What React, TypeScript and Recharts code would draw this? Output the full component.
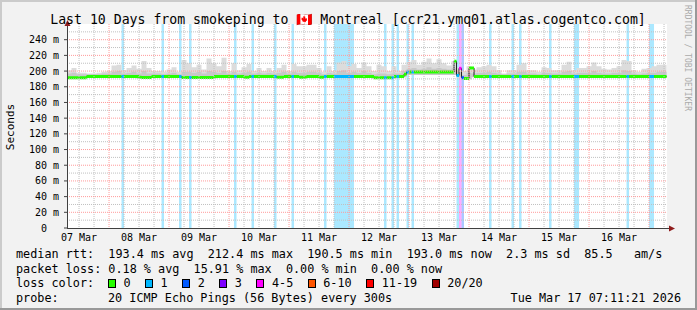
import React from 'react'
import { ComposedChart, Area, XAxis, YAxis, CartesianGrid } from 'recharts'

const MONO = '"DejaVu Sans Mono", monospace'

// x is hours since 07 Mar 00:00, the window ends Tue Mar 17 07:11:21
const startHour = 7.19
const endHour = 247.19
const firstHour = 7

const dayTicks = [12, 36, 60, 84, 108, 132, 156, 180, 204, 228]
const dayLabels = ['07 Mar', '08 Mar', '09 Mar', '10 Mar', '11 Mar', '12 Mar', '13 Mar', '14 Mar', '15 Mar', '16 Mar']
const midnights = [24, 48, 72, 96, 120, 144, 168, 192, 216, 240]
const quarterDays = [12, 18, 30, 36, 42, 54, 60, 66, 78, 84, 90, 102, 108, 114, 126, 132, 138, 150, 156, 162, 174, 180, 186, 198, 204, 210, 222, 228, 234, 246]
const yTicks = [0, 20, 40, 60, 80, 100, 120, 140, 160, 180, 200, 220, 240]
const yMinor = [10, 30, 50, 70, 90, 110, 130, 150, 170, 190, 210, 230, 250]
const yMajor = [20, 40, 60, 80, 100, 120, 140, 160, 180, 200, 220, 240]

// median rtt (ms), one value per hour, one row per day starting 07:00
const medianHourly = [
  191.5, 191.5, 191.5, 191.5, 191.5, 191.5, 191.5, 191.5, 193, 193, 193, 193, 193, 193, 193, 193, 193, 193, 193, 193, 193, 193, 193, 193,
  193, 193, 193, 193, 193, 192.3, 191.8, 191.8, 191.8, 191.8, 193, 193, 193, 193, 193, 193, 193, 193, 193, 193, 193, 193, 191.8, 191.8,
  191.8, 191.8, 191.8, 191.8, 191.8, 191.8, 191.8, 191.8, 191.8, 191.8, 191.8, 193, 193, 193, 193, 193, 193, 193, 193, 193, 193, 193, 193, 192,
  192, 193, 193, 193, 193, 193, 193, 193, 193, 193, 193, 193, 192, 192, 192, 193, 193, 193, 193, 193, 193, 192, 192, 192,
  193, 193, 193, 193, 193, 192, 192, 193, 193, 193, 193, 193, 193, 193, 193, 193, 193, 193, 193, 193, 193, 193, 193, 193,
  193, 193, 193, 191.5, 191.5, 191.5, 191.5, 191.5, 191.5, 191.5, 191.5, 193, 193, 193, 193, 196, 198.8, 198.8, 198.8, 198.8, 198.8, 198.8, 198.8, 198.8,
  198.8, 198.8, 198.8, 198.8, 198.8, 198.8, 198.8, 198.8, 198.8, 198.8, 198.8, 212.4, 194.5, 203.5, 191.5, 190.5, 190.5, 204, 204, 193, 193, 193, 193, 193,
  193, 193, 193, 193, 193, 193, 193, 193, 193, 193, 193, 193, 193, 193, 193, 193, 193, 193, 193, 193, 193, 193, 193, 193,
  193, 193, 193, 193, 193, 193, 193, 193, 193, 193, 193, 193, 193, 193, 193, 193, 193, 193, 193, 193, 193, 193, 193, 193,
  193, 193, 193, 193, 193, 193, 193, 193, 193, 193, 193, 193, 193, 193, 193, 193, 193, 193, 193, 193, 193, 193, 193, 193,
]

// smoke, one value per two hours
const smokeMax = [
  201, 204, 198, 198, 197, 197, 198, 199, 200, 207, 208, 201, 204, 207, 203, 213, 204, 200, 200, 199,
  202, 205, 199, 214, 210, 205, 208, 202, 216, 210, 206, 217, 200, 210, 201, 205, 209, 200, 204, 200,
  204, 200, 204, 208, 200, 209, 206, 206, 208, 208, 204, 199, 206, 200, 211, 213, 206, 209, 204, 211,
  206, 200, 208, 206, 200, 206, 200, 208, 212, 214, 208, 212, 216, 210, 215, 210, 207, 213, 205, 200,
  206, 202, 205, 206, 208, 206, 201, 197, 201, 201, 208, 210, 201, 201, 199, 205, 204, 201, 201, 208,
  212, 201, 204, 204, 206, 211, 206, 203, 202, 204, 206, 214, 213, 201, 199, 203, 204, 206, 208, 208,
]
const smokeMid = [
  197, 198, 196, 196, 196, 196, 196, 197, 197, 199, 200, 197, 198, 199, 197, 200, 197, 197, 197, 196,
  197, 198, 196, 199, 199, 198, 199, 197, 200, 199, 198, 200, 197, 199, 197, 198, 199, 197, 198, 197,
  198, 197, 198, 199, 197, 199, 198, 198, 199, 199, 198, 196, 198, 197, 200, 201, 198, 199, 198, 200,
  198, 196, 197, 197, 196, 197, 197, 200, 203, 204, 202, 203, 205, 203, 204, 203, 202, 204, 199, 195,
  198, 197, 198, 198, 199, 198, 197, 196, 197, 197, 199, 199, 197, 197, 196, 198, 198, 197, 197, 199,
  200, 197, 198, 198, 198, 200, 198, 197, 197, 198, 198, 201, 200, 197, 196, 197, 198, 198, 199, 199,
]
const smokeMin = [
  190.5, 190.5, 190.5, 190.5, 192, 192, 192, 192, 192, 192, 192, 192, 192, 192, 190.5, 190.5, 190.5, 192, 192, 192,
  192, 192, 192, 190.5, 190.5, 190.5, 190.5, 190.5, 190.5, 190.5, 192, 192, 192, 192, 192, 192, 192, 192, 192, 192,
  192, 192, 192, 192, 192, 192, 192, 192, 192, 192, 192, 192, 192, 192, 192, 192, 192, 192, 192, 192,
  192, 190.5, 190.5, 190.5, 190.5, 190.5, 192, 192, 195, 195, 195, 195, 195, 195, 195, 195, 195, 195, 192, 189,
  189.5, 192, 192, 192, 192, 192, 192, 192, 192, 192, 192, 192, 192, 192, 192, 192, 192, 192, 192, 192,
  192, 192, 192, 192, 192, 192, 192, 192, 192, 192, 192, 192, 192, 192, 192, 192, 192, 192, 192, 192,
]

// packet loss events: first hour, length in hours, loss colour level
const lossStart = [29, 45, 52, 56, 74, 81, 90, 97, 110, 114, 134, 137, 139, 143, 145, 163, 164, 165, 176, 185, 188, 200, 210, 231, 240]
const lossHours = [1, 1, 1, 1, 1, 1, 1, 1, 1, 8, 1, 1, 1, 1, 1, 1, 1, 1, 1, 1, 1, 1, 2, 1, 2]
const lossLevel = [1, 1, 1, 1, 1, 1, 1, 1, 1, 1, 1, 1, 1, 1, 1, 1, 4, 2, 1, 1, 1, 1, 1, 1, 1]

const lossColors = ['#26ff00', '#00b8ff', '#0059ff', '#7e00ff', '#ff00ff', '#ff5500', '#ff0000', '#a00000']
const lossLabels = ['0', '1', '2', '3', '4-5', '6-10', '11-19', '20/20']

const Y_TOP = 260
const HALF_WIDTH = 1.9 // half thickness of the coloured median band, in ms

type Row = Record<string, number | number[]>
const rows: Row[] = []
medianHourly.forEach((m, h) => {
  const hour = firstHour + h
  const bin = Math.floor(h / 2)
  const ev = lossStart.findIndex((s, k) => hour >= s && hour < s + lossHours[k])
  const lvl = ev < 0 ? 0 : lossLevel[ev]
  for (const x of [hour, hour + 1]) {
    const r: Row = {
      x,
      med: m,
      smoke: [smokeMin[bin], smokeMax[bin]],
      core: [smokeMin[bin], smokeMid[bin]],
    }
    if (lvl > 0) r['band' + lvl] = [0, Y_TOP]
    r['med' + lvl] = [m - HALF_WIDTH, m + HALF_WIDTH]
    rows.push(r)
  }
})

const tickStyle = { fontFamily: MONO, fontSize: 10, fill: '#000' }

const legendLine = (top: number): React.CSSProperties => ({
  position: 'absolute',
  left: 16,
  top,
  fontFamily: MONO,
  fontSize: 11.8,
  lineHeight: '14px',
  whiteSpace: 'pre',
  color: '#000',
})

export default function App() {
  return (
    <div style={{ position: 'absolute', left: 0, top: 0, width: 697, height: 310, background: '#f2f2f2', overflow: 'hidden' }}>
      <ComposedChart width={697} height={310} data={rows} margin={{ top: 24, right: 30, bottom: 62, left: 0 }}>
        <CartesianGrid fill="#ffffff" horizontal={false} vertical={false} />
        <XAxis
          type="number"
          dataKey="x"
          domain={[startHour, endHour]}
          allowDataOverflow
          ticks={dayTicks}
          interval={0}
          tickFormatter={(v: number) => dayLabels[dayTicks.indexOf(v)] ?? ''}
          axisLine={false}
          tickLine={false}
          tickSize={3}
          tickMargin={3}
          height={20}
          tick={tickStyle}
        />
        <YAxis
          type="number"
          domain={[0, Y_TOP]}
          ticks={yTicks}
          interval={0}
          width={67}
          axisLine={false}
          tickLine={{ stroke: '#404040' }}
          tickSize={3}
          tickMargin={5}
          tickFormatter={(v: number) => (v === 0 ? '0\u00a0\u00a0' : `${v} m`)}
          tick={tickStyle}
        />
        {lossColors.map((c, lvl) =>
          lvl === 0 ? null : (
            <Area
              key={'band' + lvl}
              type="linear"
              dataKey={'band' + lvl}
              stroke="none"
              fill={c}
              fillOpacity={0.33}
              isAnimationActive={false}
            />
          )
        )}
        <Area type="linear" dataKey="smoke" stroke="none" fill="#dcdcdc" fillOpacity={1} isAnimationActive={false} />
        <Area type="linear" dataKey="core" stroke="none" fill="#c8c8c8" fillOpacity={1} isAnimationActive={false} />
        <Area type="linear" dataKey="med" stroke="#202020" strokeWidth={1} fill="none" isAnimationActive={false} />
        {lossColors.map((c, lvl) => (
          <Area
            key={'med' + lvl}
            type="linear"
            dataKey={'med' + lvl}
            stroke="none"
            fill={c}
            fillOpacity={1}
            isAnimationActive={false}
          />
        ))}
        <CartesianGrid
          fill="none"
          stroke="#c0c0c0"
          strokeDasharray="1 1"
          horizontalValues={yMinor}
          verticalValues={quarterDays}
          zIndex={900}
        />
        <CartesianGrid
          fill="none"
          stroke="#ff9a9a"
          strokeDasharray="1 1"
          horizontalValues={yMajor}
          verticalValues={midnights}
          zIndex={901}
        />
      </ComposedChart>

      <svg width={697} height={310} style={{ position: 'absolute', left: 0, top: 0, pointerEvents: 'none' }}>
        <rect x={0} y={0} width={697} height={2} fill="#cbcbcb" />
        <rect x={0} y={0} width={2} height={310} fill="#cbcbcb" />
        <rect x={0} y={308} width={697} height={2} fill="#999999" />
        <rect x={695} y={0} width={2} height={310} fill="#999999" />
        <line x1={67.5} y1={228.5} x2={67.5} y2={24} stroke="#404040" strokeWidth={1} />
        <line x1={67} y1={228.5} x2={669} y2={228.5} stroke="#404040" strokeWidth={1} />
        <polygon points="64.5,26 70.5,26 67.5,20" fill="#8f1c1c" />
        <polygon points="669,225.5 669,231.5 675,228.5" fill="#8f1c1c" />
        <text x={348} y={24} textAnchor="middle" fontFamily={MONO} fontSize={13.2} fill="#000">
          Last 10 Days from smokeping to 🇨🇦 Montreal [ccr21.ymq01.atlas.cogentco.com]
        </text>
        <text
          transform="translate(14,127) rotate(-90)"
          textAnchor="middle"
          fontFamily={MONO}
          fontSize={11}
          fill="#000"
        >
          Seconds
        </text>
        <text
          transform="translate(685,5) rotate(90)"
          textAnchor="start"
          fontFamily={MONO}
          fontSize={8}
          fill="#aaaaaa"
        >
          RRDTOOL / TOBI OETIKER
        </text>
      </svg>

      <div style={legendLine(247)}>
        {'median rtt:  193.4 ms avg  212.4 ms max  190.5 ms min  193.0 ms now  2.3 ms sd  85.5   am/s'}
      </div>
      <div style={legendLine(261.5)}>{'packet loss: 0.18 % avg  15.91 % max  0.00 % min  0.00 % now'}</div>
      <div style={legendLine(276)}>{'loss color:'}</div>
      <div style={{ ...legendLine(276), left: 108, display: 'flex', alignItems: 'center' }}>
        {lossColors.map((c, i) => (
          <React.Fragment key={lossLabels[i]}>
            <span
              style={{
                display: 'inline-block',
                width: 8,
                height: 9,
                boxSizing: 'border-box',
                border: '1px solid #000',
                background: c,
                marginRight: 7.5,
              }}
            />
            <span style={{ marginRight: 14.5 }}>{lossLabels[i]}</span>
          </React.Fragment>
        ))}
      </div>
      <div style={legendLine(290.5)}>{'probe:'}</div>
      <div style={{ ...legendLine(290.5), left: 108 }}>{'20 ICMP Echo Pings (56 Bytes) every 300s'}</div>
      <div style={{ ...legendLine(290.5), left: 'auto', right: 16 }}>{'Tue Mar 17 07:11:21 2026'}</div>
    </div>
  )
}
